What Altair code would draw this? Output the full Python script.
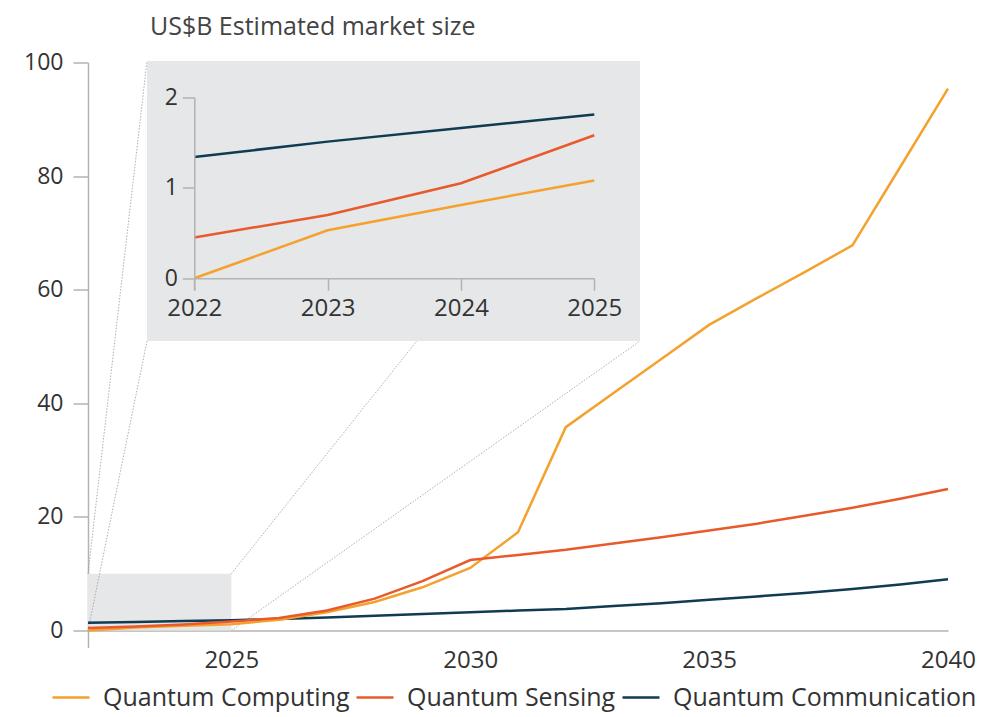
import altair as alt
import pandas as pd

# ---------------- data ----------------
years = list(range(2022, 2041))
computing = [0.0, 0.53, 0.81, 1.08, 1.9, 3.2, 5.0, 7.6, 11.0, 17.3, 35.8,
             41.8, 47.8, 53.8, 58.5, 63.1, 67.8, 81.6, 95.4]
sensing = [0.45, 0.70, 1.05, 1.58, 2.2, 3.5, 5.6, 8.7, 12.4, 13.3, 14.2,
           15.3, 16.4, 17.6, 18.8, 20.2, 21.6, 23.2, 24.9]
communication = [1.34, 1.51, 1.66, 1.81, 2.0, 2.3, 2.6, 2.9, 3.2, 3.5, 3.8,
                 4.3, 4.8, 5.4, 6.0, 6.6, 7.3, 8.1, 9.0]

series_names = ["Quantum Computing", "Quantum Sensing", "Quantum Communication"]
series_colors = ["#f4a12e", "#e85a2c", "#0f3b53"]

main_x_ticks = [2025, 2030, 2035, 2040]
main_y_ticks = [0, 20, 40, 60, 80, 100]
inset_x_ticks = [2022, 2023, 2024, 2025]
inset_y_ticks = [0, 1, 2]

zoom_x = [2022, 2025]
zoom_y = [0, 10]

title_text = "US$B Estimated market size"

rows = []
for name, vals in [("Quantum Communication", communication),
                   ("Quantum Computing", computing),
                   ("Quantum Sensing", sensing)]:
    for yr, v in zip(years, vals):
        rows.append({"year": yr, "value": v, "series": name})
df = pd.DataFrame(rows)
zoom_df = pd.DataFrame({"x0": [zoom_x[0]], "x1": [zoom_x[1]],
                        "y0": [zoom_y[0]], "y1": [zoom_y[1]]})
one = pd.DataFrame({"a": [0]})

# ---------------- styling / geometry ----------------
FONT = "Open Sans"
TEXT = "#333333"
AXIS = "#b3b3b3"
GREY_BG = "#e6e7e8"
W, H = 860, 585

# inset panel in pixels (relative to plot area)
IN_L, IN_R, IN_T, IN_B = 59, 552, -1.5, 278.5
IN_X_RANGE = [106.3, 506.3]
IN_Y_RANGE = [227.5, 34.8]

main_xscale = alt.Scale(domain=[2022, 2040], nice=False, zero=False)
main_yscale = alt.Scale(domain=[-3, 100], nice=False, zero=False)

color = alt.Color(
    "series:N",
    title=None,
    scale=alt.Scale(domain=series_names, range=series_colors),
    legend=alt.Legend(
        orient="none", legendX=-37, legendY=615, direction="horizontal",
        symbolType="stroke", symbolSize=1369, symbolStrokeWidth=2.5,
        labelFontSize=25, labelFont=FONT, labelColor=TEXT,
        labelOffset=12, columnPadding=1, labelLimit=0,
    ),
)

main_lines = alt.Chart(df).mark_line(strokeWidth=2.5).encode(
    x=alt.X("year:Q", scale=main_xscale, title=None,
            axis=alt.Axis(values=main_x_ticks, format="d", ticks=False,
                          domainColor=AXIS, domainWidth=1.5, offset=-17,
                          labelPadding=18, labelFontSize=24, labelFont=FONT,
                          labelColor=TEXT, grid=False, labelFlush=False)),
    y=alt.Y("value:Q", scale=main_yscale, title=None,
            axis=alt.Axis(values=main_y_ticks, tickSize=15, tickColor=AXIS,
                          tickWidth=1.5, domainColor=AXIS, domainWidth=1.5,
                          labelPadding=10, labelFontSize=23, labelFont=FONT,
                          labelColor=TEXT, grid=False, labelFlush=False)),
    color=color,
)

zoom_rect = alt.Chart(zoom_df).mark_rect(color=GREY_BG).encode(
    x=alt.X("x0:Q", scale=main_xscale, title=None),
    x2="x1:Q",
    y=alt.Y("y0:Q", scale=main_yscale, title=None),
    y2="y1:Q",
)

rule_style = dict(color="#9a9a9a", strokeWidth=0.8, strokeDash=[1.5, 1.5])
corner_links = [
    (zoom_x[0], zoom_y[1], IN_L, IN_T),
    (zoom_x[0], zoom_y[0], IN_L, IN_B),
    (zoom_x[1], zoom_y[1], IN_R, IN_T),
    (zoom_x[1], zoom_y[0], IN_R, IN_B),
]
rules = [
    alt.Chart(one).mark_rule(**rule_style).encode(
        x=alt.datum(cx), y=alt.datum(cy), x2=alt.value(px), y2=alt.value(py)
    )
    for cx, cy, px, py in corner_links
]

main = alt.layer(zoom_rect, *rules, main_lines)

inset_bg = alt.Chart(one).mark_rect(color=GREY_BG).encode(
    x=alt.value(IN_L), x2=alt.value(IN_R), y=alt.value(IN_T), y2=alt.value(IN_B)
)

inset_lines = alt.Chart(df).transform_filter(
    alt.datum.year <= 2025
).mark_line(strokeWidth=2.5).encode(
    x=alt.X("year:Q", title=None,
            scale=alt.Scale(domain=[2022, 2025], range=IN_X_RANGE, nice=False, zero=False),
            axis=alt.Axis(orient="bottom", offset=-369.2, values=inset_x_ticks,
                          format="d", tickSize=12, tickColor=AXIS, tickWidth=1.5,
                          domainColor=AXIS, domainWidth=1.5, labelPadding=6,
                          labelFontSize=24, labelFont=FONT, labelColor=TEXT,
                          grid=False, zindex=1, labelFlush=False)),
    y=alt.Y("value:Q", title=None,
            scale=alt.Scale(domain=[-0.13, 2], range=IN_Y_RANGE, nice=False, zero=False),
            axis=alt.Axis(orient="left", offset=-106.3, values=inset_y_ticks,
                          tickSize=12, tickColor=AXIS, tickWidth=1.5,
                          domainColor=AXIS, domainWidth=1.5, labelPadding=5,
                          labelFontSize=23, labelFont=FONT, labelColor=TEXT,
                          grid=False, zindex=1, labelFlush=False)),
    color=color,
)

inset = alt.layer(inset_bg, inset_lines)

chart = alt.layer(main, inset).resolve_scale(
    x="independent", y="independent"
).properties(
    width=W,
    height=H,
    autosize=alt.AutoSizeParams(type="none"),
    padding={"left": 80, "top": 54.5, "right": 37, "bottom": 64},
    title=alt.TitleParams(
        title_text, anchor="start", frame="group", dx=62, offset=12,
        fontSize=25, font=FONT, fontWeight="normal", color="#444444",
    ),
).configure_view(stroke="transparent")

chart.save("out.html", embed_options={"renderer": "svg", "actions": False})
